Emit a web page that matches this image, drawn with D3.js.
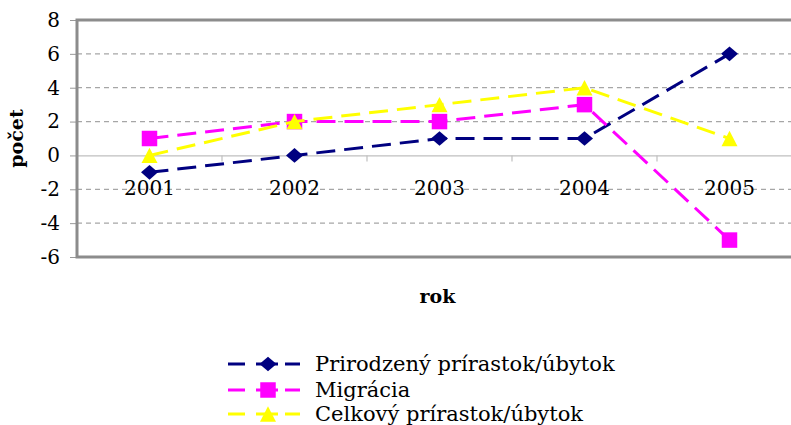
<!DOCTYPE html>
<html><head><meta charset="utf-8">
<script src="https://cdn.jsdelivr.net/npm/d3@7"></script>
<style>body{margin:0;background:#fff}svg{display:block}</style>
</head><body>
<script>
const years = ["2001","2002","2003","2004","2005"];
const seriesNames = ["Prirodzený prírastok/úbytok","Migrácia","Celkový prírastok/úbytok"];
const prirodzeny = [-1, 0, 1, 1, 6];
const migracia = [1, 2, 2, 3, -5];
const celkovy = [0, 2, 3, 4, 1];
const yTicks = [-6,-4,-2,0,2,4,6,8];
const colors = ["#000080","#FF00FF","#FFFF00"];

// custom marker shapes (size = bounding width in px)
const diamond = { draw(ctx, s) { const w = s / 2, h = s * 0.43; ctx.moveTo(0, -h); ctx.lineTo(w, 0); ctx.lineTo(0, h); ctx.lineTo(-w, 0); ctx.closePath(); } };
const square = { draw(ctx, s) { const h = s / 2; ctx.rect(-h, -h, s, s); } };
const triangle = { draw(ctx, s) { const w = s / 2, h = s * 0.48; ctx.moveTo(0, -h); ctx.lineTo(w, h); ctx.lineTo(-w, h); ctx.closePath(); } };
const symbols = [diamond, square, triangle];
const symSizes = [17, 15.5, 16];
const allSeries = [prirodzeny, migracia, celkovy];

const W = 791, H = 425;
const svg = d3.select("body").append("svg").attr("width", W).attr("height", H);
const pL = 77, pR = 802, pT = 20, pB = 257;
const x = d3.scaleBand().domain(years).range([pL, pR]);
const y = d3.scaleLinear().domain([-6, 8]).range([pB, pT]);
const serif = "'DejaVu Serif', serif";

// gridlines
svg.append("g").selectAll("line").data(yTicks.filter(t => t !== 0 && t !== -6 && t !== 8))
  .join("line")
  .attr("x1", pL).attr("x2", pR)
  .attr("y1", d => y(d)).attr("y2", d => y(d))
  .attr("stroke", "#a6a6a6").attr("stroke-width", 1.2).attr("stroke-dasharray", "5,4");

// y axis
const yAxis = svg.append("g").attr("transform", `translate(${pL},0)`)
  .call(d3.axisLeft(y).tickValues(yTicks).tickFormat(d => String(d)).tickSize(7).tickPadding(10));
yAxis.select(".domain").remove();
yAxis.selectAll(".tick line").attr("stroke", "#999");
yAxis.selectAll("text").attr("font-family", serif).attr("font-size", 20).attr("fill", "#000");

// zero line with category ticks
const xAxis = svg.append("g").attr("transform", `translate(0,${y(0)})`)
  .call(d3.axisBottom(x).tickSize(0).tickPadding(25));
xAxis.select(".domain").attr("stroke", "#bfbfbf").attr("stroke-width", 1.2);
xAxis.selectAll("text").attr("font-family", serif).attr("font-size", 20).attr("fill", "#000");
svg.append("g").selectAll("line").data(years.slice(1))
  .join("line")
  .attr("x1", d => x(d)).attr("x2", d => x(d))
  .attr("y1", y(0)).attr("y2", y(0) + 6)
  .attr("stroke", "#bfbfbf").attr("stroke-width", 1.2);

// plot border
svg.append("path")
  .attr("d", `M${pR},${pT}H${pL}V${pB}H${pR}`)
  .attr("fill", "none").attr("stroke", "#8c8c8c").attr("stroke-width", 3);

// series
const cx = d => x(d) + x.bandwidth() / 2;
allSeries.forEach((vals, i) => {
  const pts = years.map((yr, j) => [cx(yr), y(vals[j])]);
  svg.append("path").attr("d", d3.line()(pts))
    .attr("fill", "none").attr("stroke", colors[i]).attr("stroke-width", 3)
    .attr("stroke-dasharray", "19,9");
  svg.append("g").selectAll("path").data(pts).join("path")
    .attr("transform", d => `translate(${d[0]},${d[1]})`)
    .attr("d", d3.symbol().type(symbols[i]).size(symSizes[i]))
    .attr("fill", colors[i]);
});

// axis titles
svg.append("text").attr("x", (pL + pR) / 2 - 2).attr("y", 303)
  .attr("text-anchor", "middle").attr("font-family", serif).attr("font-weight", "bold")
  .attr("font-size", 19).text("rok");
svg.append("text").attr("transform", `translate(23,${(pT + pB) / 2}) rotate(-90)`)
  .attr("text-anchor", "middle").attr("font-family", serif).attr("font-weight", "bold")
  .attr("font-size", 19).text("počet");

// legend
const legY = [364, 390, 414];
seriesNames.forEach((name, i) => {
  const g = svg.append("g").attr("transform", `translate(0,${legY[i]})`);
  g.append("line").attr("x1", 228).attr("x2", 300).attr("y1", 0).attr("y2", 0)
    .attr("stroke", colors[i]).attr("stroke-width", 3).attr("stroke-dasharray", "17,11,22,7,15");
  g.append("path").attr("transform", `translate(268,0)`)
    .attr("d", d3.symbol().type(symbols[i]).size(symSizes[i])).attr("fill", colors[i]);
  g.append("text").attr("x", 315).attr("y", 7).attr("font-family", serif)
    .attr("font-size", 21).attr("fill", "#000").text(name);
});
</script>
</body></html>
